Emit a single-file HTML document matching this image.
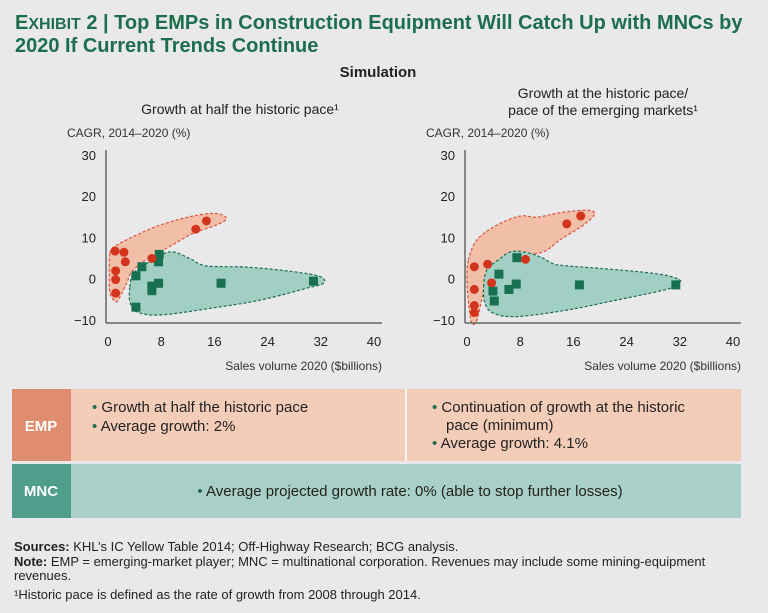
<!DOCTYPE html>
<html><head><meta charset="utf-8"><style>
body{margin:0;background:#e9e9eb;width:768px;height:613px;overflow:hidden;font-family:"Liberation Sans",sans-serif;}
svg{position:absolute;left:0;top:0}
</style></head><body>
<svg id="s" width="768" height="613" xmlns="http://www.w3.org/2000/svg">
<rect width="768" height="613" fill="#e9e9eb"/>
<text x="15" y="29" font-size="20" font-weight="bold" fill="#1d6e4d">E<tspan font-size="16">XHIBIT</tspan> 2 | Top EMPs in Construction Equipment Will Catch Up with MNCs by</text>
<text x="15" y="52" font-size="20" font-weight="bold" fill="#1d6e4d">2020 If Current Trends Continue</text>
<text x="378" y="77" font-size="15" font-weight="bold" fill="#222" text-anchor="middle">Simulation</text>
<text x="240" y="114" font-size="14" fill="#222" text-anchor="middle">Growth at half the historic pace¹</text>
<text x="603" y="98" font-size="14" fill="#222" text-anchor="middle">Growth at the historic pace/</text>
<text x="603" y="115" font-size="14" fill="#222" text-anchor="middle">pace of the emerging markets¹</text>
<g id="g1"></g><g id="g2"></g>
<rect x="12" y="389" width="59" height="72" fill="#e08c6f"/>
<rect x="71" y="389" width="670" height="72" fill="#f4cdb9"/>
<line x1="406" y1="389" x2="406" y2="461" stroke="#fff" stroke-width="1.5"/>
<rect x="12" y="464" width="59" height="54" fill="#4f9d8b"/>
<rect x="71" y="464" width="670" height="54" fill="#a9d0c6"/>
<text x="41" y="431" font-size="15" font-weight="bold" fill="#fff" text-anchor="middle">EMP</text>
<text x="41" y="496" font-size="15" font-weight="bold" fill="#fff" text-anchor="middle">MNC</text>
<g font-size="15" fill="#222">
<text x="92" y="412"><tspan fill="#1d6e4d">•</tspan> Growth at half the historic pace</text>
<text x="92" y="431"><tspan fill="#1d6e4d">•</tspan> Average growth: 2%</text>
<text x="432" y="412"><tspan fill="#1d6e4d">•</tspan> Continuation of growth at the historic</text>
<text x="446" y="430">pace (minimum)</text>
<text x="432" y="448"><tspan fill="#1d6e4d">•</tspan> Average growth: 4.1%</text>
<text x="410" y="496" text-anchor="middle"><tspan fill="#1d6e4d">•</tspan> Average projected growth rate: 0% (able to stop further losses)</text>
</g>
<g font-size="13" fill="#222">
<text x="14" y="551"><tspan font-weight="bold">Sources:</tspan> KHL’s IC Yellow Table 2014; Off-Highway Research; BCG analysis.</text>
<text x="14" y="566"><tspan font-weight="bold">Note:</tspan> EMP = emerging-market player; MNC = multinational corporation. Revenues may include some mining-equipment</text>
<text x="14" y="580">revenues.</text>
<text x="14" y="599">¹Historic pace is defined as the rate of growth from 2008 through 2014.</text>
</g>
</svg>
<script>
const xTicks=[0,8,16,24,32,40];
const yTicks=[30,20,10,0,-10];
const empXLeft=[1.05,2.4,2.6,1.15,1.15,1.15,6.6,13.2,14.8];
const empYLeft=[6.7,6.4,4.1,1.9,-0.2,-3.5,4.9,12,14];
const mncXLeft=[7.7,7.6,5.1,4.2,6.6,7.6,6.6,4.2,17,30.9];
const mncYLeft=[5.9,4.1,2.9,0.7,-1.8,-1.1,-2.9,-6.9,-1.1,-0.6];
const empXRight=[1.1,3.1,1.1,3.7,1.1,1.1,8.8,15,17.1];
const empYRight=[2.9,3.5,-2.6,-1,-6.5,-8.2,4.7,13.3,15.2];
const mncXRight=[7.5,4.8,7.4,6.3,3.9,4.1,16.9,31.4];
const mncYRight=[5.1,1.1,-1.3,-2.6,-3,-5.4,-1.5,-1.5];
const empBlobLeft=[[0.3,6.2],[1.05,7.9],[3.8,10.2],[7.8,13],[12.8,15.2],[16.3,15.8],[17.8,14.6],[16.3,13],[12.8,11],[9.3,7.8],[5.8,4.7],[3.6,1.7],[2.8,-1.1],[1.8,-4.4],[1.2,-5.6],[0.3,-3.5],[0.2,1.3]];
const mncBlobLeft=[[3.3,-2],[3.8,1.3],[5.8,3.7],[7.8,5.7],[9.8,6.5],[12.3,4.9],[14.8,3.1],[20.9,2.8],[27.9,1.7],[31.9,0.5],[32.4,-1.1],[29.9,-2.3],[22.9,-5.2],[15.3,-7.2],[7.8,-8.8],[4.3,-8],[3.3,-5.6]];
const empBlobRight=[[0.2,4.5],[1.5,9.4],[4.5,13],[8,15.2],[10.5,14.9],[14,16],[18,16.6],[19.2,15.7],[17.5,13],[14,9.4],[11.5,6.5],[8.5,5.7],[5,3.7],[3,-0.3],[2.2,-5.2],[1.5,-10],[0.7,-10.8],[0.2,-5.2],[0,-0.3]];
const mncBlobRight=[[2.5,-2],[3,2.1],[5,4.9],[6.5,6.5],[8.5,6.5],[11,5.3],[13,3.6],[15,3.1],[20,2.5],[28,1.3],[31.5,0.1],[32,-1.1],[30,-2.6],[22.5,-5.2],[15,-7.6],[7.5,-9.2],[4,-8.4],[2.7,-6]];
const NS="http://www.w3.org/2000/svg";
function mk(p,t,a){const e=document.createElementNS(NS,t);for(const k in a)e.setAttribute(k,a[k]);p.appendChild(e);return e;}
function smooth(pts){let d="";const n=pts.length;for(let i=0;i<n;i++){const p0=pts[(i-1+n)%n],p1=pts[i],p2=pts[(i+1)%n],p3=pts[(i+2)%n];if(i===0)d+="M"+p1[0]+","+p1[1];const c1=[p1[0]+(p2[0]-p0[0])/6,p1[1]+(p2[1]-p0[1])/6],c2=[p2[0]-(p3[0]-p1[0])/6,p2[1]-(p3[1]-p1[1])/6];d+="C"+c1+" "+c2+" "+p2;}return d+"Z";}
function panel(gid,x0,name,ex,ey,mx,my,eb,mb){
 const g=document.getElementById(gid);
 const X=v=>x0+v*6.65, Y=v=>278.7-v*4.125;
 const t=mk(g,"text",{x:x0-41,y:137,"font-size":12,fill:"#333"});t.textContent="CAGR, 2014–2020 (%)";
 
 
 yTicks.forEach(v=>{const e=mk(g,"text",{x:x0-12,y:Y(v)+5,"font-size":13,fill:"#222","text-anchor":"end"});e.textContent=v<0?"−"+(-v):v;
  
  });
 xTicks.forEach(v=>{const e=mk(g,"text",{x:X(v),y:346,"font-size":13,fill:"#222","text-anchor":"middle"});e.textContent=v;
  
  });
 const xt=mk(g,"text",{x:x0+274,y:370,"font-size":12,fill:"#333","text-anchor":"end"});xt.textContent="Sales volume 2020 ($billions)";
 
 
 const pe=mk(g,"path",{d:smooth(eb.map(p=>[X(p[0]).toFixed(1),Y(p[1]).toFixed(1)].map(Number))),fill:"#f1bfa8",stroke:"#d9533c","stroke-dasharray":"3,2","stroke-width":1.2});
 
 
 const pm=mk(g,"path",{d:smooth(mb.map(p=>[X(p[0]).toFixed(1),Y(p[1]).toFixed(1)].map(Number))),fill:"#a2cfc3",stroke:"#1b6e4d","stroke-dasharray":"3,2","stroke-width":1.2});
 
 
 mx.forEach((v,i)=>{const r=mk(g,"rect",{x:X(v)-4.5,y:Y(my[i])-4.5,width:9,height:9,fill:"#17704f"});
  
  });
 ex.forEach((v,i)=>{const c=mk(g,"circle",{cx:X(v),cy:Y(ey[i]),r:4.5,fill:"#d2341d"});
  
  });
 mk(g,"line",{x1:x0-2,y1:150,x2:x0-2,y2:323,stroke:"#666","stroke-width":1.5});
 mk(g,"line",{x1:x0-2,y1:323,x2:x0+274,y2:323,stroke:"#666","stroke-width":1.5});
}
panel("g1",108,"left",empXLeft,empYLeft,mncXLeft,mncYLeft,empBlobLeft,mncBlobLeft);
panel("g2",467,"right",empXRight,empYRight,mncXRight,mncYRight,empBlobRight,mncBlobRight);
</script>
</body></html>
